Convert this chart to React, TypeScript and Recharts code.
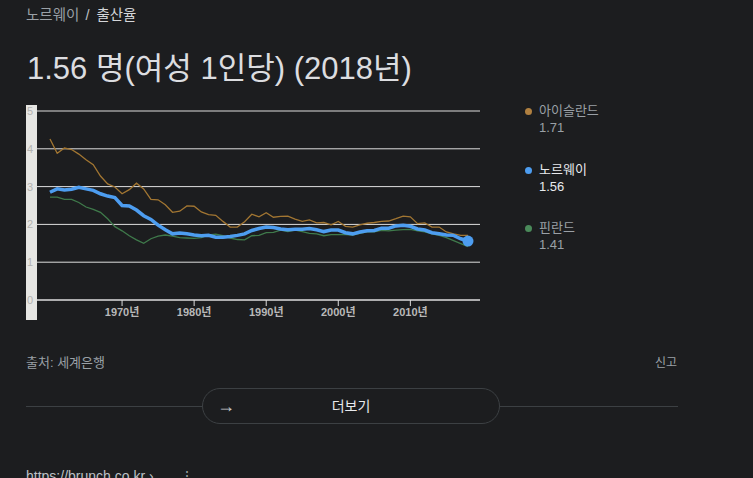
import React from 'react';
import { LineChart, Line, XAxis, YAxis, CartesianGrid, ReferenceDot } from 'recharts';

const YEARS = [
  1960, 1961, 1962, 1963, 1964, 1965, 1966, 1967, 1968, 1969,
  1970, 1971, 1972, 1973, 1974, 1975, 1976, 1977, 1978, 1979,
  1980, 1981, 1982, 1983, 1984, 1985, 1986, 1987, 1988, 1989,
  1990, 1991, 1992, 1993, 1994, 1995, 1996, 1997, 1998, 1999,
  2000, 2001, 2002, 2003, 2004, 2005, 2006, 2007, 2008, 2009,
  2010, 2011, 2012, 2013, 2014, 2015, 2016, 2017, 2018,
];

const ICELAND = [
  4.26, 3.88, 4.02, 3.98, 3.86, 3.71, 3.58, 3.28, 3.07, 2.99,
  2.81, 2.92, 3.09, 2.94, 2.66, 2.65, 2.52, 2.32, 2.35, 2.49,
  2.48, 2.33, 2.26, 2.24, 2.08, 1.93, 1.93, 2.07, 2.27, 2.2,
  2.31, 2.19, 2.21, 2.22, 2.14, 2.08, 2.12, 2.04, 2.05, 1.99,
  2.08, 1.95, 1.93, 1.99, 2.03, 2.05, 2.08, 2.09, 2.15, 2.22,
  2.2, 2.02, 2.04, 1.93, 1.93, 1.8, 1.75, 1.71, 1.71,
];

const NORWAY = [
  2.85, 2.94, 2.91, 2.93, 2.98, 2.94, 2.9, 2.81, 2.75, 2.71,
  2.5, 2.49, 2.38, 2.23, 2.13, 1.98, 1.86, 1.75, 1.77, 1.75,
  1.72, 1.7, 1.71, 1.66, 1.66, 1.68, 1.71, 1.75, 1.84, 1.89,
  1.93, 1.92, 1.88, 1.86, 1.87, 1.87, 1.89, 1.86, 1.81, 1.85,
  1.85, 1.78, 1.75, 1.8, 1.83, 1.84, 1.9, 1.9, 1.96, 1.98,
  1.95, 1.88, 1.85, 1.78, 1.75, 1.72, 1.71, 1.62, 1.56,
];

const FINLAND = [
  2.72, 2.72, 2.66, 2.66, 2.58, 2.46, 2.4, 2.32, 2.15, 1.94,
  1.83, 1.7, 1.59, 1.5, 1.62, 1.69, 1.72, 1.69, 1.65, 1.64,
  1.63, 1.65, 1.72, 1.74, 1.7, 1.64, 1.6, 1.59, 1.7, 1.71,
  1.78, 1.79, 1.85, 1.81, 1.85, 1.81, 1.76, 1.75, 1.7, 1.73,
  1.73, 1.73, 1.72, 1.76, 1.8, 1.8, 1.84, 1.83, 1.85, 1.86,
  1.87, 1.83, 1.8, 1.75, 1.71, 1.65, 1.57, 1.49, 1.41,
];

const X_TICKS = [1970, 1980, 1990, 2000, 2010];
const Y_TICKS = [0, 1, 2, 3, 4, 5];

const BG = '#1c1d1f';
const FONT = 'Arial, "Liberation Sans", "Noto Sans CJK KR", sans-serif';
const ICE_COLOR = '#a27632';
const NOR_COLOR = '#4d9df0';
const FIN_COLOR = '#3f7a4b';

const data = YEARS.map((year, i) => ({
  year,
  iceland: ICELAND[i],
  norway: NORWAY[i],
  finland: FINLAND[i],
}));

const last = YEARS.length - 1;

const legend = [
  { name: '아이슬란드', value: ICELAND[last], color: '#b08040', y: 111, active: false },
  { name: '노르웨이', value: NORWAY[last], color: NOR_COLOR, y: 170, active: true },
  { name: '핀란드', value: FINLAND[last], color: '#4a8a5a', y: 228, active: false },
];

const YTick = (props: any) => {
  const { y, payload } = props;
  return (
    <text x={27} y={y} dy={4} textAnchor="start" fontSize={11} fill="#b4b4b2" fontFamily={FONT}>
      {payload.value}
    </text>
  );
};

const App: React.FC = () => {
  return (
    <div
      style={{
        position: 'fixed',
        left: 0,
        top: 0,
        width: 753,
        height: 478,
        background: BG,
        overflow: 'hidden',
        fontFamily: FONT,
      }}
    >
      <div style={{ position: 'absolute', left: 26, top: 6, fontSize: 14.5, lineHeight: '18px', whiteSpace: 'nowrap' }}>
        <span style={{ color: '#9aa0a6' }}>노르웨이</span>
        <span style={{ color: '#bdc1c6', margin: '0 7px 0 6px' }}>/</span>
        <span style={{ color: '#d4d6d9' }}>출산율</span>
      </div>

      <div
        style={{
          position: 'absolute',
          left: 27,
          top: 54,
          fontSize: 31,
          lineHeight: '30px',
          color: '#dcdde0',
          whiteSpace: 'nowrap',
        }}
      >
        1.56 명(여성 1인당) (2018년)
      </div>

      <div style={{ position: 'absolute', left: 26, top: 105, width: 11, height: 215, background: '#e6e6e3' }} />

      <div style={{ position: 'absolute', left: 0, top: 0 }}>
        <LineChart width={500} height={330} data={data} margin={{ top: 111, right: 20, bottom: 0, left: 26 }}>
          <CartesianGrid horizontal vertical={false} stroke="#dedede" strokeWidth={1} />
          <XAxis
            dataKey="year"
            type="number"
            height={30}
            domain={[1960, 2018]}
            ticks={X_TICKS}
            padding={{ left: 13, right: 12 }}
            tickFormatter={(v: number) => `${v}년`}
            axisLine={{ stroke: '#dedede' }}
            tickLine={{ stroke: '#dedede' }}
            tickSize={6}
            tick={{ fontSize: 11, fontWeight: 700, fill: '#b8b8b8', fontFamily: FONT }}
          />
          <YAxis
            width={11}
            domain={[0, 5]}
            ticks={Y_TICKS}
            axisLine={false}
            tickLine={false}
            tick={<YTick />}
            interval={0}
          />
          <Line type="linear" dataKey="iceland" stroke={ICE_COLOR} strokeWidth={1.3} dot={false} isAnimationActive={false} />
          <Line type="linear" dataKey="finland" stroke={FIN_COLOR} strokeWidth={1.3} dot={false} isAnimationActive={false} />
          <Line type="linear" dataKey="norway" stroke={NOR_COLOR} strokeWidth={3.5} dot={false} isAnimationActive={false} />
          <ReferenceDot x={YEARS[last]} y={NORWAY[last]} r={5.5} fill={NOR_COLOR} stroke="none" />
        </LineChart>
      </div>

      {legend.map((item) => (
        <div key={item.name}>
          <div
            style={{
              position: 'absolute',
              left: 524.5,
              top: item.y - 3.5,
              width: 7,
              height: 7,
              borderRadius: '50%',
              background: item.color,
            }}
          />
          <div
            style={{
              position: 'absolute',
              left: 539,
              top: item.y - 9,
              fontSize: 13,
              lineHeight: '18px',
              color: item.active ? '#e8eaed' : '#9aa0a6',
              whiteSpace: 'nowrap',
            }}
          >
            {item.name}
          </div>
          <div
            style={{
              position: 'absolute',
              left: 539,
              top: item.y + 8,
              fontSize: 13,
              lineHeight: '18px',
              color: item.active ? '#e8eaed' : '#9aa0a6',
            }}
          >
            {item.value.toFixed(2)}
          </div>
        </div>
      ))}

      <div style={{ position: 'absolute', left: 26, top: 354, fontSize: 13, lineHeight: '18px', color: '#9aa0a6' }}>
        출처: 세계은행
      </div>
      <div style={{ position: 'absolute', left: 655, top: 354, fontSize: 12, lineHeight: '18px', color: '#9aa0a6' }}>
        신고
      </div>

      <div style={{ position: 'absolute', left: 26, top: 406, width: 176, height: 1, background: '#3c4043' }} />
      <div style={{ position: 'absolute', left: 500, top: 406, width: 178, height: 1, background: '#3c4043' }} />
      <div
        style={{
          position: 'absolute',
          left: 202,
          top: 388,
          width: 298,
          height: 36,
          boxSizing: 'border-box',
          border: '1px solid #3c4043',
          borderRadius: 18,
        }}
      >
        <div style={{ position: 'absolute', left: 14, top: 6, fontSize: 18, lineHeight: '22px', color: '#c8cacd' }}>→</div>
        <div
          style={{
            position: 'absolute',
            left: 0,
            width: '100%',
            top: 8,
            textAlign: 'center',
            fontSize: 14,
            lineHeight: '18px',
            color: '#e8eaed',
          }}
        >
          더보기
        </div>
      </div>

      <div style={{ position: 'absolute', left: 26, top: 467, fontSize: 14, lineHeight: '18px', color: '#bdc1c6', whiteSpace: 'nowrap' }}>
        https://brunch.co.kr ›<span style={{ marginLeft: 26, color: '#9aa0a6' }}>⋮</span>
      </div>
    </div>
  );
};

export default App;
